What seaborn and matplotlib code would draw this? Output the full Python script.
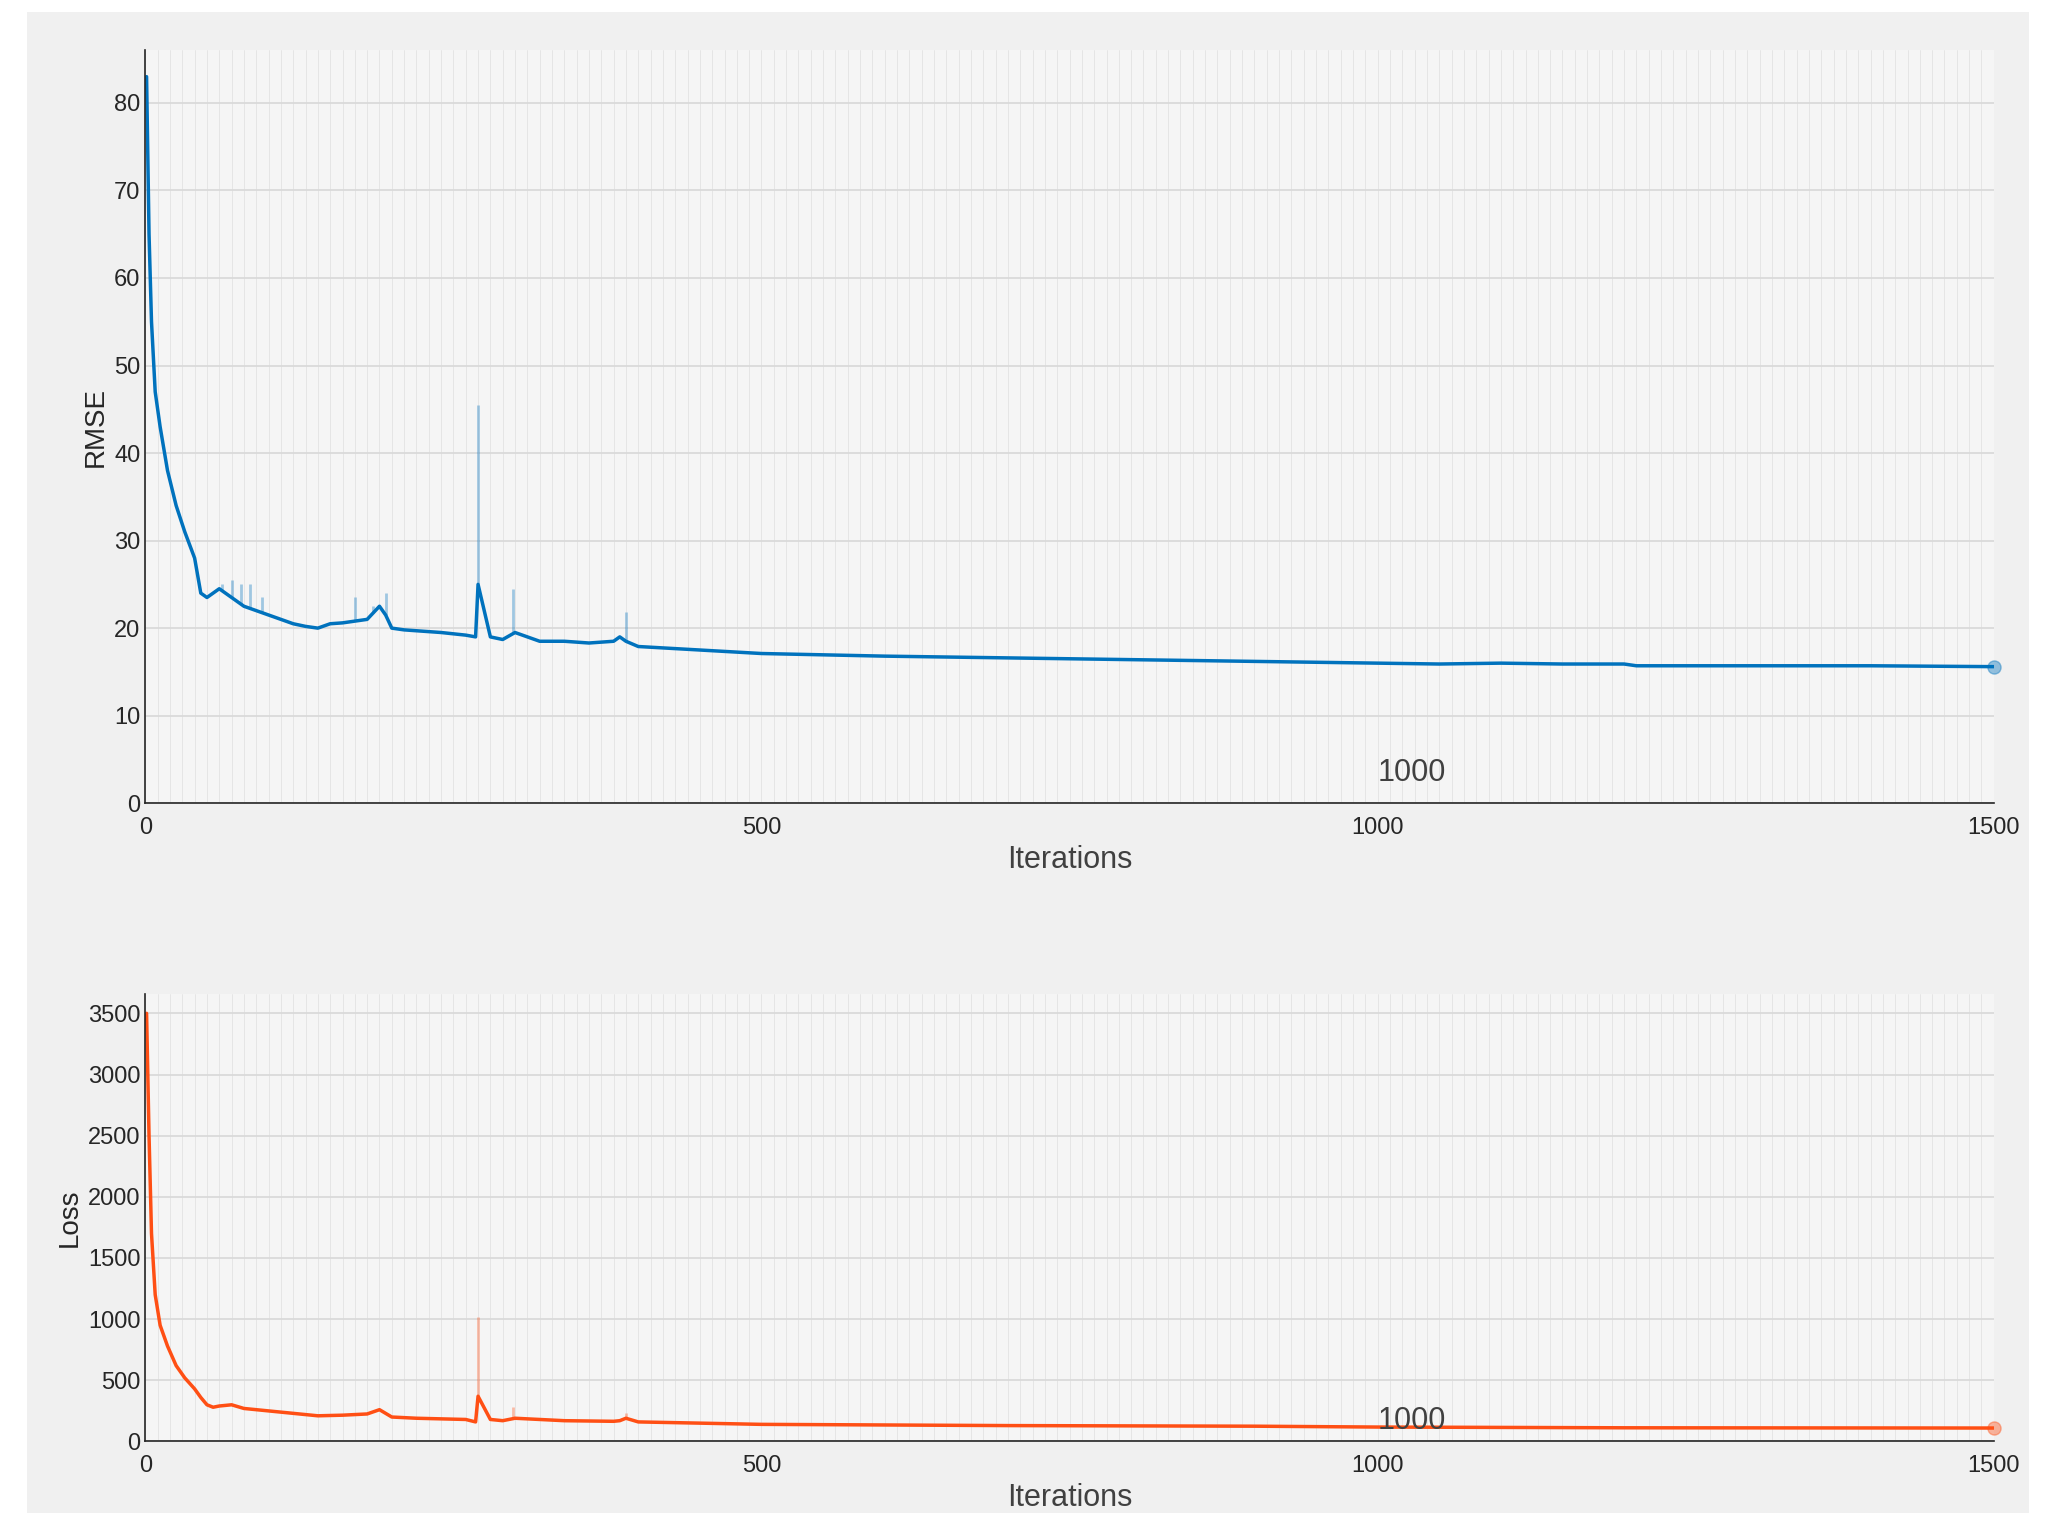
import numpy as np
import matplotlib.pyplot as plt
import seaborn as sns

# smoothed RMSE (key points)
rmse_iter = [1, 3, 5, 8, 12, 18, 25, 32, 40, 45, 50, 55, 60, 65, 70, 75, 80, 90, 100, 110, 120,
             130, 140, 150, 160, 170, 180, 190, 195, 200, 210, 220, 240, 260, 268, 270, 280,
             290, 300, 310, 320, 340, 360, 380, 385, 390, 400, 450, 500, 600, 700, 800,
             900, 1000, 1050, 1100, 1150, 1200, 1210, 1300, 1400, 1500]
rmse_val = [83, 65, 55, 47, 43, 38, 34, 31, 28, 24, 23.5, 24, 24.5, 24, 23.5, 23, 22.5, 22, 21.5,
            21, 20.5, 20.2, 20, 20.5, 20.6, 20.8, 21, 22.5, 21.5, 20, 19.8, 19.7, 19.5, 19.2, 19,
            25, 19, 18.7, 19.5, 19, 18.5, 18.5, 18.3, 18.5, 19, 18.5, 17.9, 17.5, 17.1, 16.8,
            16.6, 16.4, 16.2, 16.0, 15.9, 16.0, 15.9, 15.9, 15.7, 15.7, 15.7, 15.6]

# raw spikes (iteration, value)
rmse_spike_iter = [62, 70, 78, 85, 95, 170, 185, 195, 270, 298, 390]
rmse_spike_val = [25, 25.5, 25, 25, 23.5, 23.5, 22.5, 24, 45.5, 24.5, 21.8]

loss_iter = [1, 3, 5, 8, 12, 18, 25, 32, 40, 45, 50, 55, 60, 70, 80, 100, 120, 140, 160, 180, 190,
             195, 200, 220, 260, 268, 270, 280, 290, 300, 340, 380, 385, 390, 400, 500, 700,
             900, 1000, 1200, 1500]
loss_val = [3500, 2500, 1700, 1200, 950, 780, 620, 520, 430, 360, 300, 280, 290, 300, 270, 250,
            230, 210, 215, 225, 260, 230, 200, 190, 180, 160, 370, 180, 170, 190, 170, 165, 170,
            190, 160, 140, 130, 125, 118, 112, 110]
loss_spike_iter = [270, 298, 390]
loss_spike_val = [1020, 280, 230]

blue = "#0072bd"
orange = "#ff4f14"

sns.set_theme(style="white")
plt.rcParams['font.family'] = ['Arial', 'Liberation Sans', 'DejaVu Sans']

fig = plt.figure(figsize=(20.47, 15.27), dpi=100)
fig.patch.set_facecolor("white")
bg = fig.add_axes([0.013, 0.009, 0.978, 0.983])
bg.set_facecolor("#f0f0f0")
bg.set_xticks([]); bg.set_yticks([])
for s in bg.spines.values():
    s.set_visible(False)

ax1 = fig.add_axes([0.071, 0.474, 0.903, 0.493])
ax2 = fig.add_axes([0.071, 0.056, 0.903, 0.293])


def style(ax, ylim, yticks, ylabel):
    ax.set_facecolor("#f5f5f5")
    ax.set_xlim(0, 1500)
    ax.set_ylim(*ylim)
    ax.set_xticks([0, 500, 1000, 1500])
    ax.set_xticks(np.arange(0, 1501, 10), minor=True)
    ax.set_yticks(yticks)
    ax.grid(True, which="major", axis="y", color="#d8d8d8", lw=1.2)
    ax.grid(True, which="major", axis="x", color="#e3e3e3", lw=0.6)
    ax.grid(True, which="minor", axis="x", color="#e3e3e3", lw=0.6)
    ax.set_axisbelow(True)
    for k in ["top", "right"]:
        ax.spines[k].set_visible(False)
    for k in ["left", "bottom"]:
        ax.spines[k].set_color("#262626")
        ax.spines[k].set_linewidth(1.2)
    ax.tick_params(axis="both", labelsize=17, colors="#262626", length=5, direction="in")
    ax.tick_params(axis="x", pad=10)
    ax.set_xlabel("Iterations", fontsize=22, color="#404040", labelpad=4)
    ax.set_ylabel(ylabel, fontsize=20, color="#262626")


style(ax1, (0, 86), range(0, 81, 10), "RMSE")
style(ax2, (0, 3500 * 1.045), range(0, 3501, 500), "Loss")

ax1.vlines(rmse_spike_iter, ymin=np.interp(rmse_spike_iter, rmse_iter, rmse_val),
           ymax=rmse_spike_val, color=blue, alpha=0.35, lw=2)
sns.lineplot(x=rmse_iter, y=rmse_val, ax=ax1, color=blue, lw=2.5)
ax1.scatter([1500], [15.6], s=90, color=blue, alpha=0.4, zorder=5, clip_on=False)
ax1.text(1000, 2.5, "1000", fontsize=22, color="#404040")

ax2.vlines(loss_spike_iter, ymin=np.interp(loss_spike_iter, loss_iter, loss_val),
           ymax=loss_spike_val, color=orange, alpha=0.35, lw=2)
sns.lineplot(x=loss_iter, y=loss_val, ax=ax2, color=orange, lw=2.5)
ax2.scatter([1500], [110], s=90, color=orange, alpha=0.4, zorder=5, clip_on=False)
ax2.text(1000, 100, "1000", fontsize=22, color="#404040")

fig.savefig("out.png", dpi=100)
